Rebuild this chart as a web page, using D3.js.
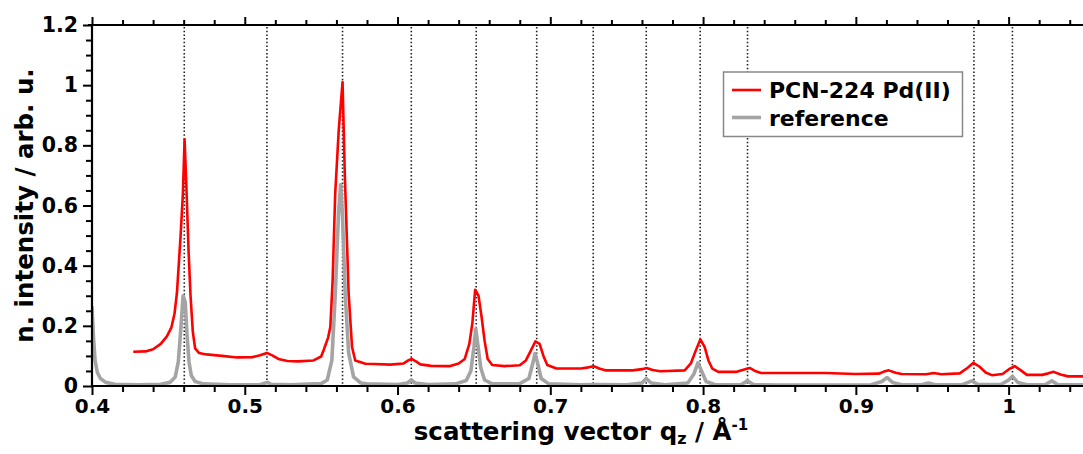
<!DOCTYPE html>
<html><head><meta charset="utf-8">
<script src="https://cdn.jsdelivr.net/npm/d3@7/dist/d3.min.js"></script>
<style>
html,body{margin:0;padding:0;background:#fff;}
svg{display:block;font-family:"DejaVu Sans",sans-serif;font-weight:bold;}
</style></head>
<body><svg id="c" width="1083" height="454"></svg>
<script>
// ---- data ----
const seriesNames = ["PCN-224 Pd(II)", "reference"];
const sampleQ = [0.427,0.435,0.440,0.445,0.449,0.452,0.454,0.4556,0.457,0.458,0.4595,0.4606,0.4618,0.4632,0.4645,0.4660,0.4675,0.4700,0.4750,0.4850,0.4950,0.5050,0.5100,0.5145,0.5180,0.5220,0.5280,0.5350,0.5450,0.5500,0.5516,0.5545,0.5560,0.5575,0.5592,0.5615,0.5640,0.5655,0.5680,0.5702,0.5723,0.5790,0.5850,0.5950,0.6040,0.6070,0.6092,0.6120,0.6150,0.6220,0.6340,0.6400,0.6440,0.6470,0.6490,0.6508,0.6530,0.6550,0.6570,0.6590,0.6620,0.6700,0.6800,0.6840,0.6870,0.6902,0.6930,0.6955,0.6980,0.7040,0.7200,0.7250,0.7283,0.7320,0.7360,0.7540,0.7600,0.7630,0.7670,0.7720,0.7880,0.7920,0.7950,0.7982,0.8010,0.8035,0.8060,0.8100,0.8220,0.8270,0.8305,0.8340,0.8380,0.8600,0.8800,0.9000,0.9150,0.9180,0.9215,0.9260,0.9300,0.9460,0.9510,0.9560,0.9680,0.9730,0.9770,0.9810,0.9850,0.9890,0.9960,1.0000,1.0040,1.0080,1.0120,1.0220,1.0260,1.0295,1.0340,1.0390,1.0500];
const sampleI = [0.114,0.115,0.122,0.140,0.165,0.195,0.240,0.31,0.42,0.50,0.64,0.82,0.66,0.45,0.30,0.18,0.125,0.110,0.105,0.100,0.095,0.096,0.102,0.110,0.102,0.090,0.083,0.082,0.085,0.098,0.119,0.160,0.196,0.350,0.640,0.850,1.010,0.700,0.307,0.130,0.085,0.074,0.073,0.071,0.075,0.085,0.090,0.082,0.072,0.067,0.066,0.075,0.090,0.140,0.210,0.320,0.300,0.230,0.150,0.090,0.070,0.066,0.069,0.085,0.115,0.148,0.140,0.100,0.070,0.058,0.058,0.062,0.066,0.058,0.052,0.052,0.056,0.060,0.053,0.049,0.052,0.075,0.115,0.155,0.130,0.085,0.058,0.047,0.047,0.055,0.060,0.050,0.043,0.043,0.043,0.040,0.041,0.047,0.052,0.044,0.040,0.039,0.043,0.039,0.042,0.060,0.077,0.064,0.045,0.036,0.040,0.055,0.066,0.052,0.037,0.037,0.042,0.047,0.038,0.032,0.032];
const refQ = [0.4000,0.4010,0.4020,0.4035,0.4055,0.4090,0.4150,0.4300,0.4450,0.4510,0.4545,0.4565,0.4580,0.4596,0.4610,0.4622,0.4635,0.4650,0.4675,0.4730,0.4900,0.5100,0.5135,0.5150,0.5170,0.5300,0.5500,0.5540,0.5570,0.5592,0.5614,0.5628,0.5640,0.5658,0.5680,0.5712,0.5760,0.5800,0.6000,0.6065,0.6090,0.6115,0.6200,0.6380,0.6450,0.6480,0.6500,0.6512,0.6525,0.6545,0.6570,0.6620,0.6800,0.6860,0.6885,0.6900,0.6915,0.6940,0.6990,0.7200,0.7280,0.7500,0.7600,0.7628,0.7660,0.7750,0.7900,0.7940,0.7966,0.7990,0.8020,0.8080,0.8250,0.8290,0.8330,0.8500,0.9100,0.9170,0.9205,0.9240,0.9300,0.9430,0.9475,0.9520,0.9700,0.9760,0.9800,0.9950,1.0000,1.0025,1.0060,1.0120,1.0240,1.0283,1.0320,1.0500];
const refI = [0.265,0.160,0.085,0.045,0.025,0.012,0.006,0.004,0.006,0.012,0.030,0.080,0.180,0.300,0.280,0.170,0.080,0.035,0.015,0.007,0.004,0.004,0.010,0.012,0.006,0.004,0.008,0.020,0.085,0.300,0.580,0.670,0.560,0.300,0.110,0.030,0.010,0.007,0.005,0.010,0.020,0.010,0.005,0.007,0.018,0.050,0.130,0.190,0.140,0.060,0.020,0.007,0.008,0.025,0.075,0.108,0.080,0.025,0.007,0.004,0.005,0.004,0.010,0.025,0.010,0.004,0.010,0.040,0.077,0.050,0.015,0.004,0.005,0.017,0.005,0.003,0.004,0.015,0.028,0.012,0.004,0.004,0.010,0.004,0.005,0.017,0.005,0.005,0.020,0.032,0.012,0.004,0.005,0.017,0.005,0.004];
const braggQ = [0.4604,0.5145,0.5640,0.6090,0.6515,0.6911,0.7281,0.7628,0.7981,0.8291,0.9773,1.0025];
const xTicks = [0.4,0.5,0.6,0.7,0.8,0.9,1.0];
const xTickLabels = ["0.4","0.5","0.6","0.7","0.8","0.9","1"];
const yTicks = [0,0.2,0.4,0.6,0.8,1.0,1.2];
const yTickLabels = ["0","0.2","0.4","0.6","0.8","1","1.2"];
const colors = ["#ff0000","#a4a4a4"];

// ---- layout ----
const L = 92, R = 1085, T = 25, B = 386;
const svg = d3.select("#c");
const x = d3.scaleLinear().domain([0.4, 1.05]).range([L, R]);
const y = d3.scaleLinear().domain([0, 1.2]).range([B, T]);

svg.append("defs").append("clipPath").attr("id","clip")
  .append("rect").attr("x",L).attr("y",T).attr("width",R-L).attr("height",B-T);

// Bragg lines
svg.append("g").selectAll("line").data(braggQ).join("line")
  .attr("x1",d=>x(d)).attr("x2",d=>x(d)).attr("y1",T+2).attr("y2",B)
  .attr("stroke","#222").attr("stroke-width",1.6).attr("stroke-dasharray","1.5,2.2");

const line = d3.line().x(d=>x(d[0])).y(d=>y(d[1]));
const g = svg.append("g").attr("clip-path","url(#clip)");
g.append("path").datum(refQ.map((q,i)=>[q,refI[i]]))
  .attr("d",line).attr("fill","none").attr("stroke",colors[1]).attr("stroke-width",3.6)
  .attr("stroke-linejoin","round");
g.append("path").datum(sampleQ.map((q,i)=>[q,sampleI[i]]))
  .attr("d",line).attr("fill","none").attr("stroke",colors[0]).attr("stroke-width",2.6)
  .attr("stroke-linejoin","round");

// axes
const xMinor = d3.range(0.42, 1.05, 0.02).filter(v=>Math.abs(v*10-Math.round(v*10))>1e-6);
const yMinor = d3.range(0.05, 1.2, 0.05).filter(v=>Math.abs(v*5-Math.round(v*5))>1e-6);

function styleAxis(sel){
  sel.select(".domain").remove();
  sel.selectAll("line").attr("stroke","#000").attr("stroke-width",2);
}
// bottom
const gb = svg.append("g").attr("transform",`translate(0,${B})`);
gb.call(d3.axisBottom(x).tickValues(xMinor).tickSize(6).tickFormat("")).call(styleAxis);
const gb2 = svg.append("g").attr("transform",`translate(0,${B})`);
gb2.call(d3.axisBottom(x).tickValues(xTicks).tickSize(9).tickPadding(4).tickFormat((d,i)=>xTickLabels[i])).call(styleAxis);
gb2.selectAll("text").attr("font-size",20).attr("font-family","DejaVu Sans").attr("font-weight","bold").attr("fill","#000");
// top
const gt = svg.append("g").attr("transform",`translate(0,${T})`);
gt.call(d3.axisTop(x).tickValues(xMinor).tickSize(5).tickFormat("")).call(styleAxis);
const gt2 = svg.append("g").attr("transform",`translate(0,${T})`);
gt2.call(d3.axisTop(x).tickValues(xTicks).tickSize(8).tickFormat("")).call(styleAxis);
// left
const gl = svg.append("g").attr("transform",`translate(${L},0)`);
gl.call(d3.axisLeft(y).tickValues(yMinor).tickSize(6).tickFormat("")).call(styleAxis);
const gl2 = svg.append("g").attr("transform",`translate(${L},0)`);
gl2.call(d3.axisLeft(y).tickValues(yTicks).tickSize(9).tickPadding(5).tickFormat((d,i)=>yTickLabels[i])).call(styleAxis);
gl2.selectAll("text").attr("font-size",20.5).attr("font-family","DejaVu Sans").attr("font-weight","bold").attr("fill","#000");

// axis lines
svg.append("line").attr("x1",L).attr("x2",1083).attr("y1",B).attr("y2",B).attr("stroke","#000").attr("stroke-width",2.2);
svg.append("line").attr("x1",L-4).attr("x2",1083).attr("y1",T).attr("y2",T).attr("stroke","#000").attr("stroke-width",2.2);
svg.append("line").attr("x1",L).attr("x2",L).attr("y1",T).attr("y2",B+1).attr("stroke","#000").attr("stroke-width",2.2);

// titles
const xt = svg.append("text").attr("x",581).attr("y",440).attr("text-anchor","middle")
  .attr("font-size",24.5).attr("fill","#000");
xt.append("tspan").text("scattering vector q");
xt.append("tspan").attr("font-size",16).attr("dy",4).text("z");
xt.append("tspan").attr("dy",-4).text(" / Å");
xt.append("tspan").attr("font-size",15).attr("dy",-10).text("-1");
svg.append("text").attr("transform",`translate(33,${(T+B)/2}) rotate(-90)`)
  .attr("text-anchor","middle").attr("font-size",24.5).attr("fill","#000")
  .text("n. intensity / arb. u.");

// legend
const lg = svg.append("g");
lg.append("rect").attr("x",723.5).attr("y",72).attr("width",239).attr("height",64.5)
  .attr("fill","#fff").attr("stroke","#888").attr("stroke-width",1.5);
seriesNames.forEach((n,i)=>{
  const yy = 90 + i*27.5;
  lg.append("line").attr("x1",732).attr("x2",761).attr("y1",yy).attr("y2",yy)
    .attr("stroke",colors[i]).attr("stroke-width",i?3.6:2.6);
  lg.append("text").attr("x",769).attr("y",yy+8).attr("font-size",22).attr("fill","#000").text(n);
});
</script></body></html>
